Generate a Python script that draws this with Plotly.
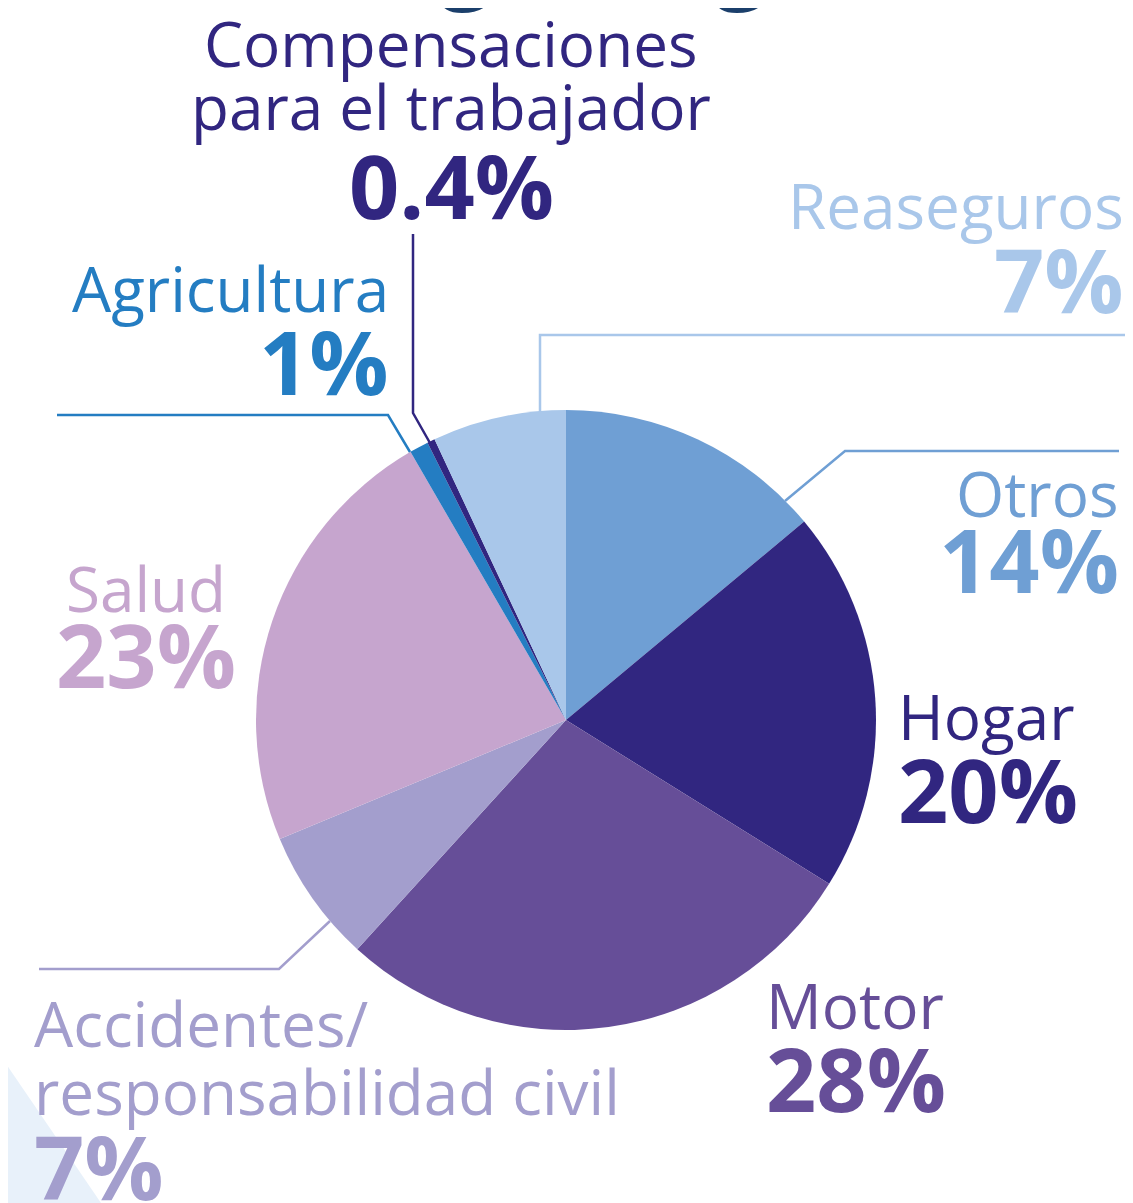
import plotly.graph_objects as go

W, H = 1133, 1203
OFF = 8  # page body margin of the browser

# ---- data ----
categories = ["Otros", "Hogar", "Motor", "Accidentes/responsabilidad civil",
              "Salud", "Agricultura", "Compensaciones para el trabajador", "Reaseguros"]
shares = [14, 20, 28, 7, 23, 1, 0.4, 7]
colors = ["#6F9FD4", "#312680", "#664E98", "#A39ECD",
          "#C6A5CE", "#247DC2", "#312680", "#A9C7EA"]
name_lines = {
    "Accidentes/responsabilidad civil": ["Accidentes/", "responsabilidad civil"],
    "Compensaciones para el trabajador": ["Compensaciones", "para el trabajador"],
}
title_text = "Seguros generales"

# ---- styling / positions (pixels, page coordinates) ----
FONT = "Open Sans"
ASC = 1.069
NAME_FS = 62
PCT_FS = 88
label_pos = {
    "Otros": dict(x=1119, xa="right", nb=[517], pb=593),
    "Hogar": dict(x=898, xa="left", nb=[740], pb=823),
    "Motor": dict(x=766, xa="left", nb=[1029], pb=1112),
    "Accidentes/responsabilidad civil": dict(x=34, xa="left", nb=[1047, 1115], pb=1200),
    "Salud": dict(x=146, xa="center", nb=[612], pb=688),
    "Agricultura": dict(x=389, xa="right", nb=[312], pb=395),
    "Compensaciones para el trabajador": dict(x=451, xa="center", nb=[67, 130], pb=219),
    "Reaseguros": dict(x=1124, xa="right", nb=[229], pb=313),
}
leaders = {
    "Reaseguros": [(540, 412), (540, 335), (1125, 335)],
    "Otros": [(785, 501), (845, 451), (1119, 451)],
    "Agricultura": [(410, 452), (388, 415), (57, 415)],
    "Compensaciones para el trabajador": [(430, 443), (413, 413), (413, 234)],
    "Accidentes/responsabilidad civil": [(330, 921), (279, 969), (39, 969)],
}


def px(x):
    return (x - OFF) / W


def py(y):
    return 1 - (y - OFF) / H


fig = go.Figure()
fig.add_trace(go.Pie(
    labels=categories, values=shares, sort=False, direction="clockwise",
    rotation=0, marker=dict(colors=colors, line=dict(width=0)),
    textinfo="none", hoverinfo="label+value", showlegend=False,
    domain=dict(x=[px(256), px(876)], y=[py(1030), py(410)]),
))

annotations = []


def add_text(text, x, baseline, xa, fs, color, bold=False):
    t = f"<b>{text}</b>" if bold else text
    annotations.append(dict(
        text=t, x=px(x), y=py(baseline - ASC * fs), xref="paper", yref="paper",
        xanchor=xa, yanchor="top", showarrow=False, borderpad=0, borderwidth=0,
        font=dict(family=FONT, size=fs, color=color), align=xa,
    ))


for cat, val, col in zip(categories, shares, colors):
    p = label_pos[cat]
    lines = name_lines.get(cat, [cat])
    for ln, b in zip(lines, p["nb"]):
        add_text(ln, p["x"], b, p["xa"], NAME_FS, col)
    add_text(f"{val:g}%", p["x"], p["pb"], p["xa"], PCT_FS, col, bold=True)

# partially visible heading at the very top
add_text(title_text, 338, -9, "left", 90, "#1B3F6B", bold=True)

shapes = [dict(type="path", xref="paper", yref="paper",
               path=f"M {px(0)} {py(1055)} L {px(101)} {py(1203)} L {px(0)} {py(1203)} Z",
               fillcolor="#E8F1FA", line=dict(width=0), layer="below")]
for cat, pts in leaders.items():
    col = colors[categories.index(cat)]
    path = "M " + " L ".join(f"{px(a)} {py(b)}" for a, b in pts)
    shapes.append(dict(type="path", xref="paper", yref="paper", path=path,
                       line=dict(color=col, width=2.5), layer="above"))

fig.update_layout(
    width=W, height=H, autosize=False,
    margin=dict(l=0, r=0, t=0, b=0),
    paper_bgcolor="white", plot_bgcolor="white",
    annotations=annotations, shapes=shapes,
)

fig.write_html("out.html")
